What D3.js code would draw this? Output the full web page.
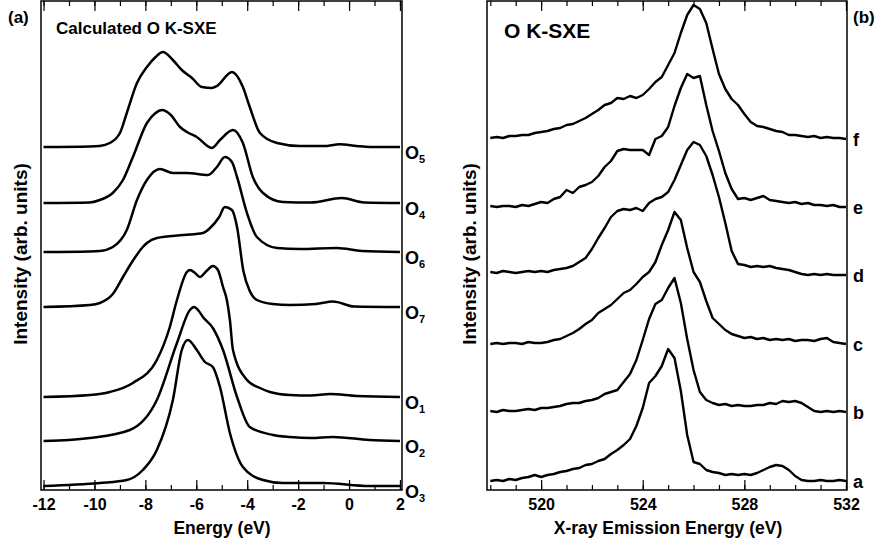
<!DOCTYPE html>
<html>
<head>
<meta charset="utf-8">
<script src="https://cdn.jsdelivr.net/npm/d3@7"></script>
<style>
body { margin: 0; background: #fff; }
text { font-family: "Liberation Sans", Arial, Helvetica, sans-serif; font-weight: bold; fill: #000; }
.tick text { font-size: 16px; }
</style>
</head>
<body>
<svg id="chart" width="882" height="546"></svg>
<script>
// Calculated O K-SXE spectra, [energy (eV), intensity above own baseline]
var calcNames = ["5", "4", "6", "7", "1", "2", "3"];
var calcOffsets = [34.3, 28.7, 23.8, 18.3, 9.3, 4.9, 0.4];
var calcO5 = [[-12,0],[-10.2,0.05],[-9.8,0.1],[-9.4,0.4],[-9.0,1.4],[-8.73,3.4],[-8.33,6.4],[-7.94,8.0],[-7.6,9.0],[-7.31,9.5],[-6.92,8.7],[-6.57,7.7],[-6.17,6.9],[-5.78,6.0],[-5.39,5.9],[-5.19,6.1],[-4.6,7.5],[-4.17,6.0],[-3.9,4.0],[-3.5,1.4],[-2.83,0.4],[-1.93,0.1],[-1.0,0.1],[-0.36,0.27],[0.3,0.1],[0.82,0],[2,0]];
var calcO4 = [[-12,0],[-10.2,0.05],[-9.79,0.3],[-9.28,1.0],[-8.88,2.3],[-8.49,4.6],[-7.94,8.0],[-7.6,9.0],[-7.35,9.3],[-7.0,8.8],[-6.64,7.6],[-6.37,7.1],[-5.98,6.6],[-5.39,5.5],[-5.07,6.3],[-4.56,7.3],[-4.17,6.0],[-3.78,2.6],[-3.38,1.0],[-2.6,0.1],[-1.5,0.05],[-0.28,0.5],[0.6,0.05],[2,0]];
var calcO6 = [[-12,0],[-10.2,0.05],[-9.79,0.1],[-9.28,0.5],[-8.73,2.2],[-8.33,5.2],[-7.94,7.2],[-7.43,8.3],[-6.92,7.9],[-6.37,7.9],[-5.54,7.7],[-5.19,8.5],[-4.88,9.5],[-4.6,9.0],[-4.4,7.5],[-4.01,3.9],[-3.62,1.5],[-2.83,0.4],[-1.93,0.3],[-0.47,0.4],[0.5,0.1],[2,0]];
var calcO7 = [[-12,0],[-10.18,0.2],[-9.79,0.4],[-9.28,1.3],[-8.88,3.0],[-8.5,4.6],[-8.1,6.0],[-7.94,6.4],[-7.55,6.9],[-6.5,7.2],[-5.74,7.4],[-5.46,7.9],[-5.1,9.0],[-4.88,10.0],[-4.6,9.7],[-4.4,8.0],[-4.15,3.6],[-3.9,1.6],[-3.62,0.7],[-3.0,0.3],[-2.32,0.2],[-1.3,0.3],[-0.63,0.55],[0.2,0.05],[2,0]];
var calcO1 = [[-12,0],[-10.18,0.2],[-9.4,0.5],[-8.49,1.4],[-7.55,3.7],[-7.04,7.0],[-6.76,9.7],[-6.37,12.5],[-6.25,12.7],[-6.05,12.4],[-5.86,12.0],[-5.6,12.6],[-5.35,13.1],[-5.15,12.7],[-4.95,11.0],[-4.8,9.7],[-4.68,7.7],[-4.56,4.7],[-4.01,1.7],[-3.5,0.9],[-3.11,0.5],[-2.32,0.2],[-1.5,0.15],[-0.75,0.3],[0.3,0.1],[2,0]];
var calcO2 = [[-12,0],[-11,0.1],[-10.18,0.3],[-8.61,1.1],[-7.55,4.1],[-6.76,9.8],[-6.25,13.1],[-6.09,13.4],[-5.9,13.0],[-5.74,12.4],[-5.35,11.3],[-4.95,9.1],[-4.4,4.4],[-3.9,1.4],[-2.99,0.6],[-2.32,0.4],[-1.5,0.3],[-0.63,0.4],[0.8,0.1],[2,0]];
var calcO3 = [[-12,0],[-9.79,0.3],[-8.73,0.6],[-8.1,1.6],[-7.55,3.6],[-6.92,8.6],[-6.57,13.6],[-6.33,14.6],[-5.98,13.6],[-5.66,12.4],[-5.35,11.9],[-5.07,9.9],[-4.68,5.3],[-4.17,1.9],[-3.38,0.6],[-2.6,0.3],[-1.03,0.3],[0.8,0],[2,0]];
var calcSpectra = [calcO5, calcO4, calcO6, calcO7, calcO1, calcO2, calcO3];

// Measured O K-SXE spectra a-f
var expNames = ["f", "e", "d", "c", "b", "a"];
var expOffsets = [35.1, 28.3, 21.5, 14.6, 7.8, 0.9];
var expEnergy = [518,518.25,518.5,518.75,519,519.25,519.5,519.75,520,520.25,520.5,520.75,521,521.25,521.5,521.75,522,522.25,522.5,522.75,523,523.25,523.5,523.75,524,524.25,524.5,524.75,525,525.25,525.5,525.75,526,526.25,526.5,526.75,527,527.25,527.5,527.75,528,528.25,528.5,528.75,529,529.25,529.5,529.75,530,530.25,530.5,530.75,531,531.25,531.5,531.75,532];
var expF = [0.1,0.2,0.1,0.3,0.3,0.4,0.4,0.6,0.7,0.8,1.0,1.1,1.4,1.5,1.8,2.1,2.5,2.9,3.4,3.6,4.1,4.0,4.3,4.1,4.4,5.0,5.7,6.2,7.4,8.6,10.6,12.4,13.4,13.0,11.6,9.0,6.5,5.0,4.0,3.4,2.5,1.7,1.3,1.2,1.0,0.8,0.7,0.4,0.4,0.3,0.2,0.3,0.1,0.2,0.1,0.1,0.0];
var expE = [0.1,0.0,0.1,0.1,0.0,0.2,0.1,0.3,0.5,0.4,0.8,1.0,1.7,1.4,2.0,2.2,2.5,3.1,4.0,4.6,5.6,5.8,5.7,5.7,5.7,5.2,6.8,7.1,8.0,10.1,11.9,13.3,12.9,13.1,10.2,7.6,5.6,3.4,1.8,0.8,0.9,0.7,0.9,1.1,0.7,0.6,0.5,0.4,0.5,0.3,0.4,0.2,0.2,0.1,0.2,0.0,0.0];
var expD = [0.3,0.2,0.4,0.3,0.2,0.3,0.4,0.3,0.4,0.3,0.5,0.6,0.7,0.9,1.3,1.7,2.6,3.7,4.7,5.8,6.4,6.6,6.5,6.7,6.4,7.2,7.6,7.8,8.3,9.5,11.0,12.5,13.3,13.0,11.9,10.0,7.8,5.2,2.4,1.1,1.0,0.8,0.9,0.8,0.9,0.7,0.6,0.5,0.3,0.1,0.0,0.1,0.0,0.1,0.0,0.0,0.0];
var expC = [0.0,0.1,0.0,0.1,0.1,0.0,0.2,0.1,0.1,0.2,0.4,0.5,0.8,1.1,1.5,2.0,2.4,3.1,3.5,3.9,4.5,5.1,5.4,6.0,6.7,7.2,8.2,9.9,11.4,13.2,12.4,9.6,7.2,6.2,4.3,2.6,2.0,1.4,1.0,0.8,0.6,0.7,0.5,0.6,0.4,0.5,0.4,0.5,0.3,0.4,0.4,0.3,0.5,0.6,0.2,0.1,0.0];
var expB = [0.1,0.0,0.2,0.1,0.1,0.2,0.3,0.2,0.4,0.4,0.5,0.6,0.8,0.9,0.9,1.1,1.2,1.4,1.8,2.0,2.2,3.0,3.8,5.2,7.2,9.3,10.8,11.2,12.4,13.4,10.9,7.3,4.2,2.0,1.2,0.9,0.7,0.8,0.6,0.7,0.6,0.6,0.7,0.7,0.9,0.8,1.1,1.0,1.1,0.9,0.5,0.1,0.0,0.1,0.0,0.1,0.0];
var expA = [0.0,0.1,0.0,0.2,0.1,0.3,0.4,0.6,0.4,0.6,0.7,0.9,1.0,1.2,1.3,1.6,1.7,2.0,2.2,2.7,3.1,3.6,4.2,5.5,7.3,9.8,10.5,11.5,13.2,12.3,9.0,4.6,1.9,1.7,1.1,0.9,0.8,0.6,0.7,0.6,0.7,0.6,0.8,1.1,1.4,1.6,1.5,1.1,0.5,0.1,0.0,0.0,0.1,0.0,0.0,0.1,0.0];
var expSpectra = [expF, expE, expD, expC, expB, expA];

var calcTicks = [-12, -10, -8, -6, -4, -2, 0, 2];
var calcMinor = [-12, -11, -10, -9, -8, -7, -6, -5, -4, -3, -2, -1, 0, 1, 2];
var expTicks = [520, 524, 528, 532];
var expMinor = [518, 519, 520, 521, 522, 523, 524, 525, 526, 527, 528, 529, 530, 531, 532];

var svg = d3.select("#chart"),
    plotTop = 1, plotBottom = 490,
    y = d3.scaleLinear().domain([0, 49]).range([plotBottom, 0]);

function frame(x, majors, minors) {
    var left = x.range()[0], right = x.range()[1];
    // inward ticks on bottom and top edges
    [[plotBottom, d3.axisBottom, true], [plotTop, d3.axisTop, false]].forEach(function (s) {
        var g1 = svg.append("g").attr("transform", "translate(0," + s[0] + ")")
            .call(s[1](x).tickValues(minors).tickSize(-5).tickSizeOuter(0).tickFormat(""));
        var g2 = svg.append("g").attr("transform", "translate(0," + s[0] + ")")
            .call(s[1](x).tickValues(majors).tickSize(-10).tickSizeOuter(0).tickPadding(9)
                .tickFormat(s[2] ? d3.format("d") : ""));
        [g1, g2].forEach(function (g) {
            g.attr("font-family", null).attr("font-size", null);
            g.select(".domain").remove();
            g.selectAll(".tick line").attr("stroke", "#000").attr("stroke-width", 1.2);
        });
        // plain hyphen for negative numbers, as in the original
        g2.selectAll(".tick text").text(function (d) { return s[2] ? String(d) : ""; });
    });
    svg.append("rect")
        .attr("x", left).attr("y", plotTop)
        .attr("width", right - left).attr("height", plotBottom - plotTop)
        .attr("fill", "none").attr("stroke", "#000").attr("stroke-width", 1.5);
}

// ---- panel (a): calculated ----
var xa = d3.scaleLinear().domain([-12.1, 2.08]).range([41, 402]);
var lineA = d3.line()
    .x(function (d) { return xa(d[0]); })
    .y(function (d) { return y(d[1] + d[2]); })
    .curve(d3.curveMonotoneX);

calcSpectra.forEach(function (s, i) {
    svg.append("path")
        .datum(s.map(function (p) { return [p[0], p[1], calcOffsets[i]]; }))
        .attr("fill", "none").attr("stroke", "#000")
        .attr("stroke-width", 2.5).attr("stroke-linejoin", "round")
        .attr("d", lineA);
    var t = svg.append("text")
        .attr("x", 405).attr("y", y(calcOffsets[i]) + 12)
        .style("font-size", "18px").text("O");
    t.append("tspan").attr("dy", 4).style("font-size", "11px").text(calcNames[i]);
});
frame(xa, calcTicks, calcMinor);

svg.append("text").attr("x", 8).attr("y", 23).style("font-size", "17px").text("(a)");
svg.append("text").attr("x", 56).attr("y", 34).style("font-size", "17px").text("Calculated O K-SXE");
svg.append("text").attr("x", 222).attr("y", 534).attr("text-anchor", "middle")
    .style("font-size", "17.5px").text("Energy (eV)");
svg.append("text").attr("transform", "translate(27,254) rotate(-90)")
    .attr("text-anchor", "middle").style("font-size", "19px").text("Intensity (arb. units)");

// ---- panel (b): experiment ----
var xb = d3.scaleLinear().domain([517.87, 532.04]).range([487, 847]);
var lineB = d3.line()
    .x(function (d) { return xb(d[0]); })
    .y(function (d) { return y(d[1] + d[2]); });

expSpectra.forEach(function (s, i) {
    svg.append("path")
        .datum(s.map(function (v, j) { return [expEnergy[j], v, expOffsets[i]]; }))
        .attr("fill", "none").attr("stroke", "#000")
        .attr("stroke-width", 2.4).attr("stroke-linejoin", "round")
        .attr("d", lineB);
    svg.append("text")
        .attr("x", 853).attr("y", y(expOffsets[i]) + 7)
        .style("font-size", "18px").text(expNames[i]);
});
frame(xb, expTicks, expMinor);

svg.append("text").attr("x", 853).attr("y", 23).style("font-size", "17px").text("(b)");
svg.append("text").attr("x", 504).attr("y", 38).style("font-size", "21px").text("O K-SXE");
svg.append("text").attr("x", 668).attr("y", 534).attr("text-anchor", "middle")
    .style("font-size", "17.5px").text("X-ray Emission Energy (eV)");
svg.append("text").attr("transform", "translate(476,254) rotate(-90)")
    .attr("text-anchor", "middle").style("font-size", "19px").text("Intensity (arb. units)");
</script>
</body>
</html>
